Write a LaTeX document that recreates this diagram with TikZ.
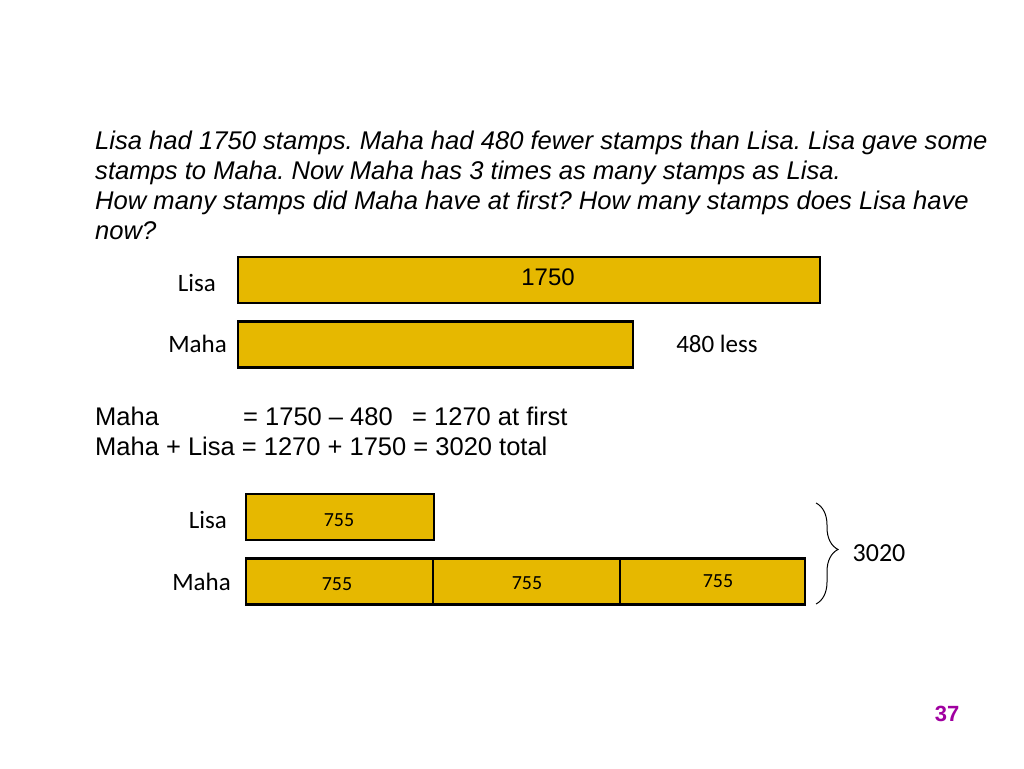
\documentclass[tikz,border=0pt]{standalone}
\usepackage{fontspec}
\setmainfont{Liberation Sans}
\newfontfamily\calib{Carlito}
\usetikzlibrary{decorations.pathreplacing}
\frenchspacing
\definecolor{barfill}{RGB}{230,184,0}
\definecolor{pagenum}{RGB}{160,0,160}
\tikzset{
  bar/.style={draw=black, line width=2.5pt, fill=barfill, rectangle, inner sep=0pt, minimum height=46pt},
  qtext/.style={anchor=base west, inner sep=0pt, font=\fontsize{25.6}{30}\selectfont\itshape},
  eqtext/.style={anchor=base west, inner sep=0pt, font=\fontsize{25.5}{30}\selectfont},
  lbl/.style={inner sep=0pt, font=\calib\fontsize{25}{28}\selectfont},
  small/.style={inner sep=0pt, font=\calib\fontsize{20}{24}\selectfont}
}
\begin{document}
\begin{tikzpicture}[x=1pt,y=-1pt]
\useasboundingbox (0,0) rectangle (1024,768);
% question
\node[qtext] (q1) at (95,149) {Lisa had 1750 stamps. Maha had 480 fewer stamps than Lisa. Lisa gave some};
\node[qtext] (q2) at (95,179) {stamps to Maha. Now Maha has 3 times as many stamps as Lisa.};
\node[qtext] (q3) at (95,209) {How many stamps did Maha have at first? How many stamps does Lisa have};
\node[qtext] (q4) at (95,239) {now?};
% first model
\node[bar, minimum width=582pt] (lisa1) at (529,280) {};
\node[inner sep=0pt, font=\fontsize{24}{28}\selectfont] (t1750) at (548,277) {1750};
\node[bar, minimum width=395pt] (maha1) at (435.5,344.5) {};
\node[lbl, anchor=east] (lisaL1) at (216,283) {Lisa};
\node[lbl, anchor=east] (mahaL1) at (227,344) {Maha};
\node[lbl] (less) at (717,344) {480 less};
% equations
\node[eqtext] (e1a) at (95,425) {Maha};
\node[eqtext] (e1b) at (243,425) {= 1750 -- 480};
\node[eqtext] (e1c) at (412,425) {= 1270 at first};
\node[eqtext] (e2) at (95,455) {Maha + Lisa = 1270 + 1750 = 3020 total};
% second model
\node[bar, minimum width=188pt] (lisa2) at (340,517) {};
\node[small] at (339,520) {755};
\node[bar, minimum width=187pt] (m1) at (339.5,581.5) {};
\node[bar, minimum width=187pt] (m2) at (526.5,581.5) {};
\node[bar, minimum width=185pt] (m3) at (712.5,581.5) {};
\node[small] (t1) at (337,584) {755};
\node[small] (t2) at (527,583) {755};
\node[small] (t3) at (718,581) {755};
\node[lbl, anchor=east] (lisaL2) at (227,520) {Lisa};
\node[lbl, anchor=east] (mahaL2) at (231,582) {Maha};
\coordinate (bt) at (816,503);
\coordinate (bb) at (816,604);
\draw[line width=1pt, decorate, decoration={brace, amplitude=22pt, aspect=0.46}] (bt) -- (bb);
\node[inner sep=0pt, font=\calib\fontsize{26}{28}\selectfont] (total) at (879,553) {3020};
% page number
\node[inner sep=0pt, text=pagenum, font=\fontsize{22}{26}\selectfont\bfseries] (pg) at (947,714) {37};
\end{tikzpicture}
\end{document}
